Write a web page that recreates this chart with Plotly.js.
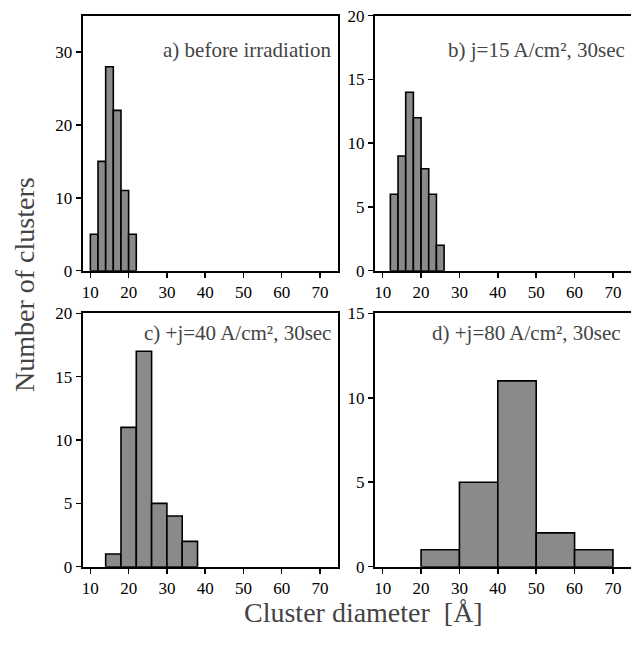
<!DOCTYPE html>
<html>
<head>
<meta charset="utf-8">
<script src="https://cdn.plot.ly/plotly-3.0.1.min.js"></script>
<style>html,body{margin:0;padding:0;background:#fff;}#chart{width:631px;height:647px;}</style>
</head>
<body>
<div id="chart"></div>
<script>
// Panel a) before irradiation: bin centres (Angstrom) and counts
const aCenters = [11, 13, 15, 17, 19, 21];
const aCounts  = [5, 15, 28, 22, 11, 5];
const aWidth = 2;
// Panel b) j=15 A/cm2, 30 sec
const bCenters = [13, 15, 17, 19, 21, 23, 25];
const bCounts  = [6, 9, 14, 12, 8, 6, 2];
const bWidth = 2;
// Panel c) +j=40 A/cm2, 30 sec
const cCenters = [16, 20, 24, 28, 32, 36];
const cCounts  = [1, 11, 17, 5, 4, 2];
const cWidth = 4;
// Panel d) +j=80 A/cm2, 30 sec
const dCenters = [25, 35, 45, 55, 65];
const dCounts  = [1, 5, 11, 2, 1];
const dWidth = 10;

const xTicks = [10, 20, 30, 40, 50, 60, 70];
const labels = ["a) before irradiation", "b) j=15 A/cm\u00B2, 30sec",
                "c) +j=40 A/cm\u00B2, 30sec", "d) +j=80 A/cm\u00B2, 30sec"];
const yTitle = "Number of clusters";
const xTitle = "Cluster diameter  [\u00C5]";

const W = 631, H = 647;
const ML = 10, MT = 5, PW = W - ML, PH = H - MT - 5;
function px(x) { return (x - ML) / PW; }
function py(y) { return 1 - (y - MT) / PH; }

function bar(x, y, w, xa, ya) {
  return {
    type: 'bar', x: x, y: y, width: w, xaxis: xa, yaxis: ya,
    marker: {color: '#8a8a8a', line: {color: '#000', width: 1.6}},
    showlegend: false
  };
}

const data = [
  bar(aCenters, aCounts, aWidth, 'x', 'y'),
  bar(bCenters, bCounts, bWidth, 'x2', 'y2'),
  bar(cCenters, cCounts, cWidth, 'x3', 'y3'),
  bar(dCenters, dCounts, dWidth, 'x4', 'y4')
];

function xax(domain, anchor) {
  return {
    domain: domain, anchor: anchor, range: [8, 74.7],
    tickvals: xTicks, ticks: 'outside', ticklen: 5, tickwidth: 1.5, tickcolor: '#000',
    showline: true, linecolor: '#000', linewidth: 2, mirror: true,
    showgrid: false, zeroline: false,
    tickfont: {family: 'Liberation Serif', size: 17, color: '#000'}
  };
}
function yax(domain, anchor, max, dtick) {
  return {
    domain: domain, anchor: anchor, range: [0, max], dtick: dtick,
    ticks: 'outside', ticklen: 5, tickwidth: 1.5, tickcolor: '#000',
    showline: true, linecolor: '#000', linewidth: 2, mirror: true,
    showgrid: false, zeroline: false,
    tickfont: {family: 'Liberation Serif', size: 17, color: '#000'}
  };
}

const xL = [px(82.7), px(338)], xR = [px(375), 1.0];
const yT = [py(270.7), py(15.7)], yB = [py(566.7), py(313.3)];

const layout = {
  width: W, height: H,
  margin: {l: ML, r: 0, t: MT, b: 5},
  bargap: 0,
  xaxis: xax(xL, 'y'), yaxis: yax(yT, 'x', 35, 10),
  xaxis2: xax(xR, 'y2'), yaxis2: yax(yT, 'x2', 20, 5),
  xaxis3: xax(xL, 'y3'), yaxis3: yax(yB, 'x3', 20, 5),
  xaxis4: xax(xR, 'y4'), yaxis4: yax(yB, 'x4', 15, 5),
  annotations: [
    {text: labels[0], xref: 'paper', yref: 'paper', x: px(333), y: py(36), xanchor: 'right', showarrow: false, font: {family: 'Liberation Serif', size: 21}},
    {text: labels[1], xref: 'paper', yref: 'paper', x: px(627), y: py(36), xanchor: 'right', showarrow: false, font: {family: 'Liberation Serif', size: 21}},
    {text: labels[2], xref: 'paper', yref: 'paper', x: px(333), y: py(333), xanchor: 'right', showarrow: false, font: {family: 'Liberation Serif', size: 21}},
    {text: labels[3], xref: 'paper', yref: 'paper', x: px(623), y: py(333), xanchor: 'right', showarrow: false, font: {family: 'Liberation Serif', size: 21}},
    {text: yTitle, xref: 'paper', yref: 'paper', x: px(24), y: py(285), xanchor: 'center', textangle: -90, showarrow: false, font: {family: 'Liberation Serif', size: 28}},
    {text: xTitle, xref: 'paper', yref: 'paper', x: px(363), y: py(630), xanchor: 'center', showarrow: false, font: {family: 'Liberation Serif', size: 28}}
  ]
};

Plotly.newPlot('chart', data, layout, {displayModeBar: false, staticPlot: true});
</script>
</body>
</html>
